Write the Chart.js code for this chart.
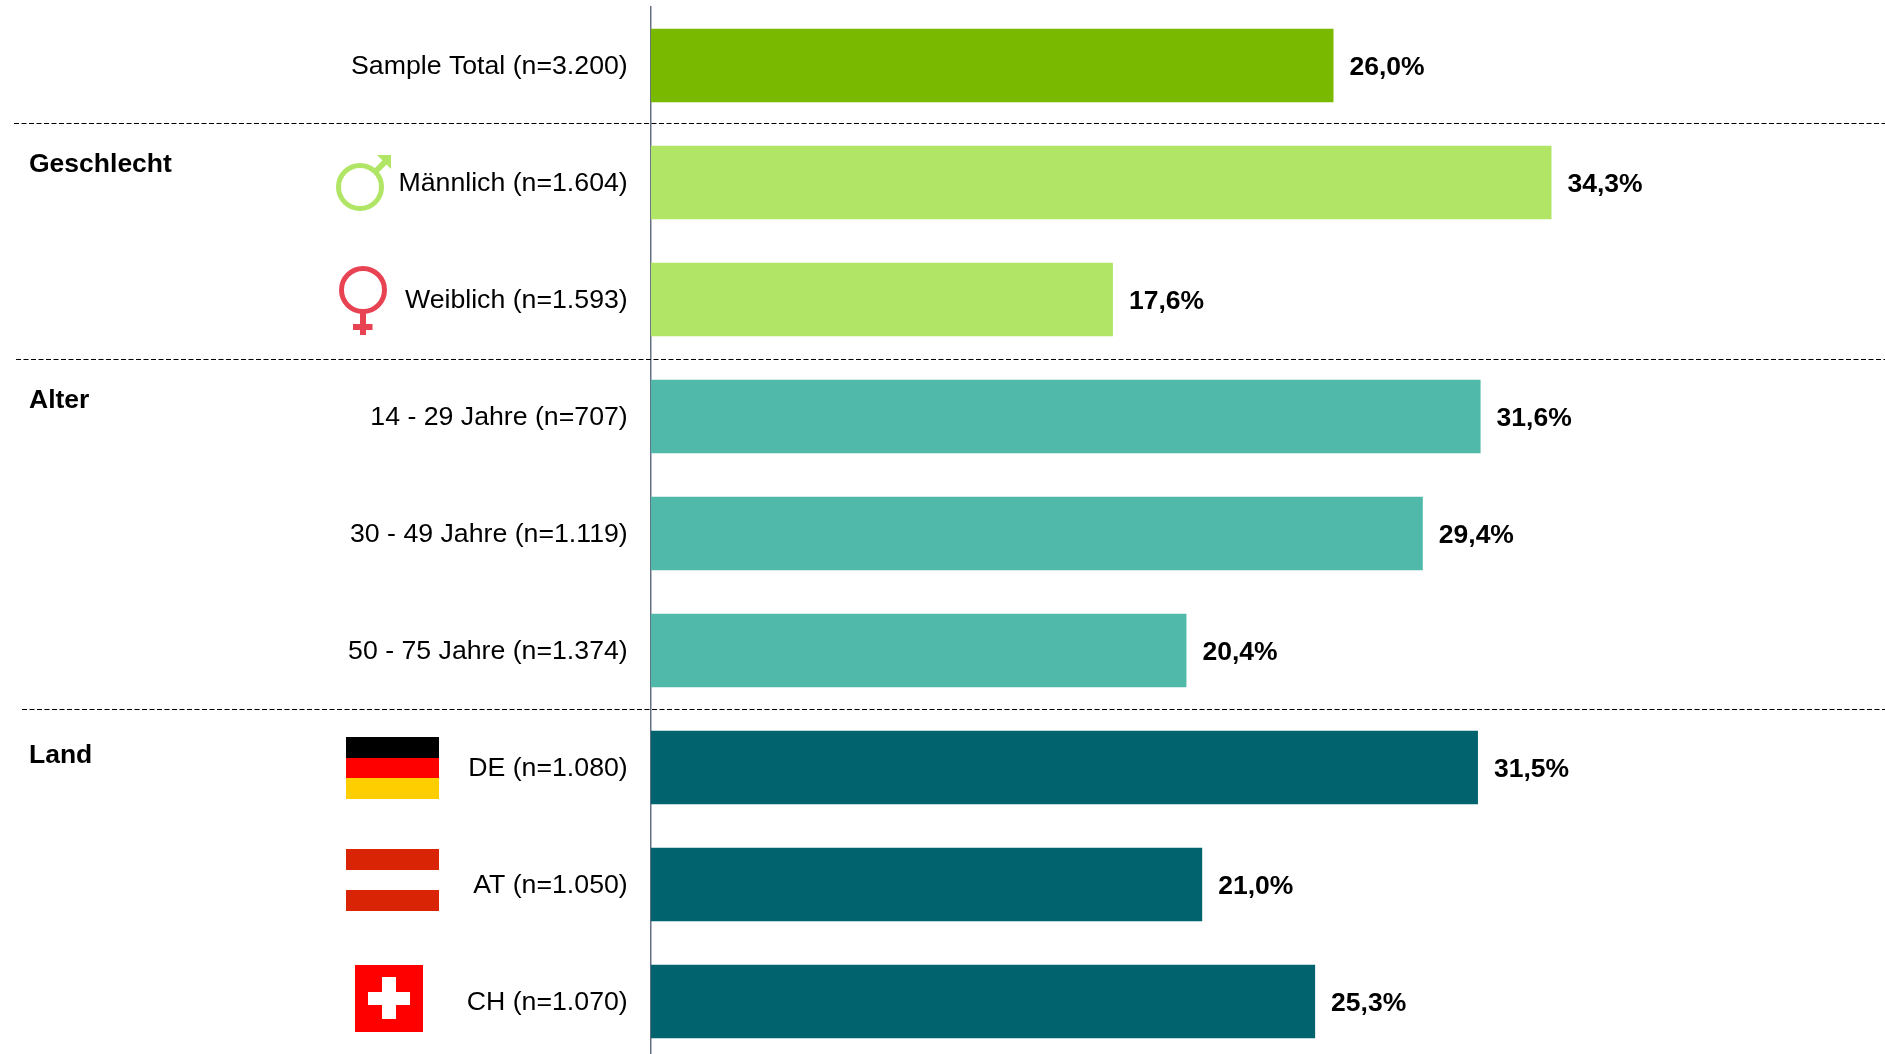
<!DOCTYPE html>
<html>
<head>
<meta charset="utf-8">
<style>
  html, body { margin: 0; padding: 0; background: #fff; overflow: hidden; height: 100%; }
  canvas { display: block; }
</style>
<script src="https://cdn.jsdelivr.net/npm/chart.js@4/dist/chart.umd.js"></script>
</head>
<body>
<canvas id="chart" width="1885" height="1060"></canvas>
<script>
const categories = [
  'Sample Total (n=3.200)', 'Männlich (n=1.604)', 'Weiblich (n=1.593)',
  '14 - 29 Jahre (n=707)', '30 - 49 Jahre (n=1.119)', '50 - 75 Jahre (n=1.374)',
  'DE (n=1.080)', 'AT (n=1.050)', 'CH (n=1.070)'
];
const values = [26.0, 34.3, 17.6, 31.6, 29.4, 20.4, 31.5, 21.0, 25.3];
const barColors = ['#79b900', '#b0e566', '#b0e566', '#50b9a9', '#50b9a9', '#50b9a9', '#00636e', '#00636e', '#00636e'];
const groupNames = ['Geschlecht', 'Alter', 'Land'];
const groupFirstRow = [1, 3, 6];
const groupOffsets = [-18, -16, -12];
const separatorRows = [0.5, 2.5, 5.5];
const separatorStart = [14, 16, 22];
const separatorNudge = [0, 2, 1];

const fontFamily = '"Liberation Sans", Arial, sans-serif';

const annotations = {
  id: 'annotations',
  afterDatasetsDraw(chart) {
    const { ctx, scales: { x, y } } = chart;
    ctx.save();

    // value labels
    ctx.font = 'bold 26.5px ' + fontFamily;
    ctx.fillStyle = '#000';
    ctx.textBaseline = 'middle';
    ctx.textAlign = 'left';
    values.forEach((v, i) => {
      ctx.fillText(v.toFixed(1).replace('.', ',') + '%', x.getPixelForValue(v) + 16, y.getPixelForValue(i) + 2);
    });

    // group headings
    groupNames.forEach((name, i) => {
      ctx.fillText(name, 29, y.getPixelForValue(groupFirstRow[i]) + groupOffsets[i]);
    });

    // dashed separators
    ctx.strokeStyle = '#000';
    ctx.lineWidth = 1;
    ctx.setLineDash([5, 2.5]);
    separatorRows.forEach((r, i) => {
      const py = Math.round(y.getPixelForValue(r)) - 0.5 + separatorNudge[i];
      ctx.beginPath();
      ctx.moveTo(separatorStart[i], py);
      ctx.lineTo(1885, py);
      ctx.stroke();
    });
    ctx.setLineDash([]);

    drawGenderIcons(ctx);
    drawFlags(ctx);
    ctx.restore();
  }
};

function drawGenderIcons(ctx) {
  // male
  ctx.strokeStyle = '#b0e566';
  ctx.fillStyle = '#b0e566';
  ctx.lineWidth = 5;
  ctx.beginPath();
  ctx.arc(360, 187, 21.5, 0, Math.PI * 2);
  ctx.stroke();
  ctx.lineWidth = 6;
  ctx.beginPath();
  ctx.moveTo(375, 172);
  ctx.lineTo(386, 161);
  ctx.stroke();
  ctx.lineWidth = 5;
  ctx.beginPath();
  ctx.moveTo(391, 155);
  ctx.lineTo(391, 169);
  ctx.lineTo(377, 155);
  ctx.closePath();
  ctx.fill();

  // female
  ctx.strokeStyle = '#e84353';
  ctx.beginPath();
  ctx.arc(363, 290, 21.5, 0, Math.PI * 2);
  ctx.stroke();
  ctx.lineWidth = 6;
  ctx.beginPath();
  ctx.moveTo(363, 313);
  ctx.lineTo(363, 335);
  ctx.moveTo(353, 327);
  ctx.lineTo(372.5, 327);
  ctx.stroke();
}

function drawFlags(ctx) {
  // DE
  ctx.fillStyle = '#000';
  ctx.fillRect(346, 737, 93, 21);
  ctx.fillStyle = '#f00';
  ctx.fillRect(346, 758, 93, 20);
  ctx.fillStyle = '#ffce00';
  ctx.fillRect(346, 778, 93, 21);
  // AT
  ctx.fillStyle = '#d92405';
  ctx.fillRect(346, 849, 93, 21);
  ctx.fillRect(346, 890, 93, 21);
  // CH
  ctx.fillStyle = '#f00';
  ctx.fillRect(355, 965, 68, 67);
  ctx.fillStyle = '#fff';
  ctx.fillRect(368, 992, 42, 13);
  ctx.fillRect(382, 977, 14, 42);
}

new Chart(document.getElementById('chart'), {
  type: 'bar',
  data: {
    labels: categories,
    datasets: [{
      data: values,
      backgroundColor: barColors,
      borderWidth: 0,
      barPercentage: 0.63,
      categoryPercentage: 1
    }]
  },
  options: {
    indexAxis: 'y',
    responsive: false,
    animation: false,
    layout: { padding: { top: 7, right: 0, bottom: 0, left: 0 } },
    plugins: { legend: { display: false }, tooltip: { enabled: false } },
    scales: {
      x: { display: false, min: 0, max: 47 },
      y: {
        afterFit: scale => {
          scale.width = 650.7;
          // tick padding otherwise eats into the plot height
          scale.paddingTop = 0;
          scale.paddingBottom = 0;
        },
        grid: { display: false },
        border: { color: '#667085', width: 1.5 },
        ticks: {
          color: '#000',
          padding: 15,
          labelOffset: 1,
          autoSkip: false,
          font: { family: fontFamily, size: 26.7 }
        }
      }
    }
  },
  plugins: [annotations]
});
</script>
</body>
</html>
